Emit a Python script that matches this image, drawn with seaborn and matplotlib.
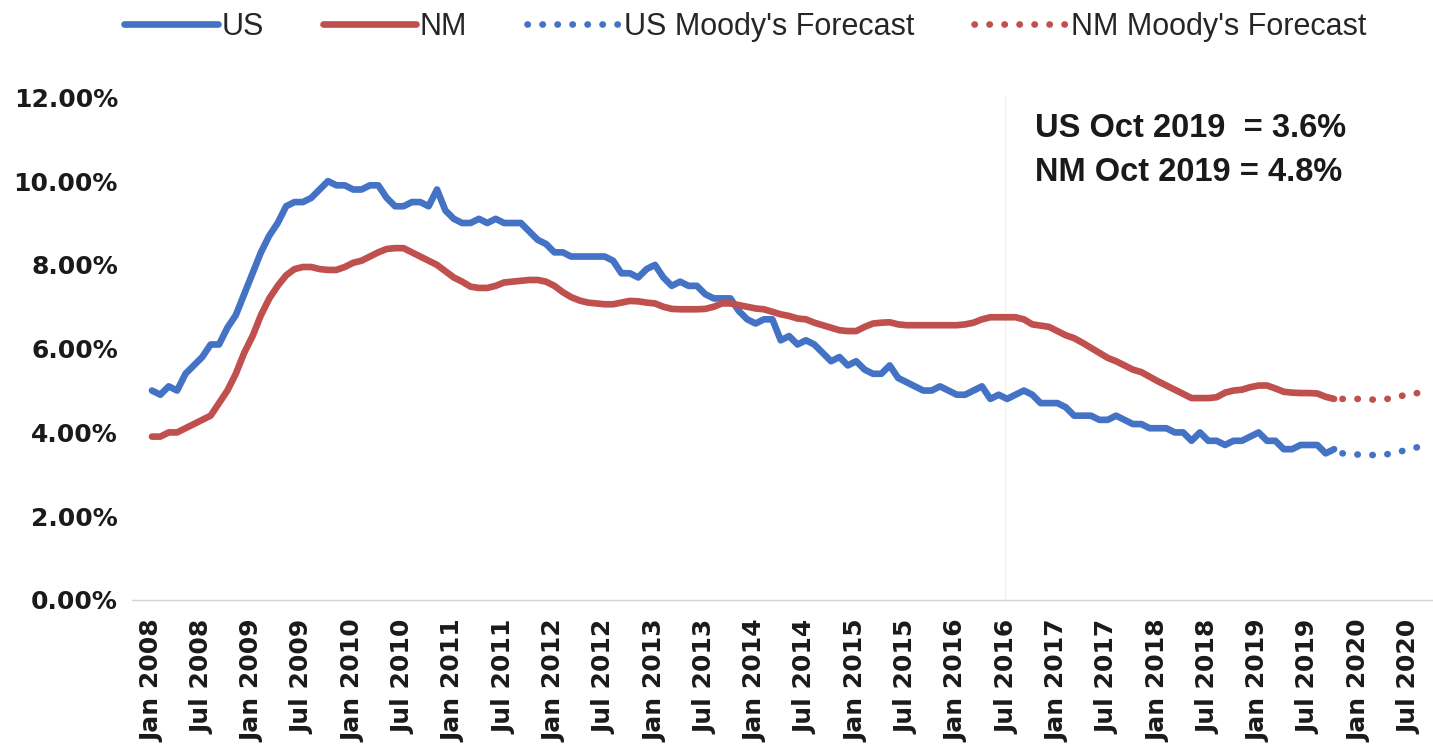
"""
US vs New Mexico unemployment rate, Jan 2008 - Oct 2019, with Moody's forecast.
"""
import numpy as np
import pandas as pd
import matplotlib
matplotlib.use("Agg")
import matplotlib.pyplot as plt
import seaborn as sns

# --- data (monthly, Jan 2008 = month 0) ---
us_rate = [
    5.0, 4.9, 5.1, 5.0, 5.4, 5.6, 5.8, 6.1, 6.1, 6.5, 6.8, 7.3,   # 2008
    7.8, 8.3, 8.7, 9.0, 9.4, 9.5, 9.5, 9.6, 9.8, 10.0, 9.9, 9.9,  # 2009
    9.8, 9.8, 9.9, 9.9, 9.6, 9.4, 9.4, 9.5, 9.5, 9.4, 9.8, 9.3,   # 2010
    9.1, 9.0, 9.0, 9.1, 9.0, 9.1, 9.0, 9.0, 9.0, 8.8, 8.6, 8.5,   # 2011
    8.3, 8.3, 8.2, 8.2, 8.2, 8.2, 8.2, 8.1, 7.8, 7.8, 7.7, 7.9,   # 2012
    8.0, 7.7, 7.5, 7.6, 7.5, 7.5, 7.3, 7.2, 7.2, 7.2, 6.9, 6.7,   # 2013
    6.6, 6.7, 6.7, 6.2, 6.3, 6.1, 6.2, 6.1, 5.9, 5.7, 5.8, 5.6,   # 2014
    5.7, 5.5, 5.4, 5.4, 5.6, 5.3, 5.2, 5.1, 5.0, 5.0, 5.1, 5.0,   # 2015
    4.9, 4.9, 5.0, 5.1, 4.8, 4.9, 4.8, 4.9, 5.0, 4.9, 4.7, 4.7,   # 2016
    4.7, 4.6, 4.4, 4.4, 4.4, 4.3, 4.3, 4.4, 4.3, 4.2, 4.2, 4.1,   # 2017
    4.1, 4.1, 4.0, 4.0, 3.8, 4.0, 3.8, 3.8, 3.7, 3.8, 3.8, 3.9,   # 2018
    4.0, 3.8, 3.8, 3.6, 3.6, 3.7, 3.7, 3.7, 3.5, 3.6,             # 2019
]
nm_rate = [
    3.9, 3.9, 4.0, 4.0, 4.1, 4.2, 4.3, 4.4, 4.7, 5.0, 5.4, 5.9,
    6.3, 6.8, 7.2, 7.5, 7.75, 7.9, 7.95, 7.95, 7.9, 7.88, 7.88, 7.95,
    8.05, 8.1, 8.2, 8.3, 8.38, 8.4, 8.4, 8.3, 8.2, 8.1, 8.0, 7.85,
    7.7, 7.6, 7.48, 7.45, 7.45, 7.5, 7.58, 7.6, 7.62, 7.64, 7.64, 7.6,
    7.5, 7.35, 7.23, 7.15, 7.1, 7.08, 7.06, 7.06, 7.1, 7.14, 7.13, 7.1,
    7.08, 7.0, 6.95, 6.94, 6.94, 6.94, 6.95, 7.0, 7.08, 7.08, 7.04, 7.0,
    6.96, 6.94, 6.88, 6.82, 6.78, 6.72, 6.7, 6.62, 6.56, 6.5, 6.44, 6.42,
    6.42, 6.52, 6.6, 6.62, 6.63, 6.58, 6.56, 6.56, 6.56, 6.56, 6.56, 6.56,
    6.56, 6.58, 6.62, 6.7, 6.75, 6.75, 6.75, 6.75, 6.7, 6.58, 6.55, 6.52,
    6.42, 6.32, 6.25, 6.14, 6.02, 5.9, 5.78, 5.7, 5.6, 5.5, 5.44, 5.33,
    5.22, 5.12, 5.02, 4.92, 4.82, 4.82, 4.82, 4.84, 4.95, 5.0, 5.02, 5.08,
    5.12, 5.12, 5.05, 4.97, 4.95, 4.94, 4.94, 4.93, 4.85, 4.8,
]
# Moody's forecast, Nov 2019 onwards
us_forecast = [3.5, 3.48, 3.47, 3.46, 3.46, 3.47, 3.5, 3.55, 3.6, 3.65, 3.7]
nm_forecast = [4.8, 4.8, 4.8, 4.79, 4.78, 4.79, 4.82, 4.87, 4.92, 4.94, 4.96]

tick_labels = [
    "Jan 2008", "Jul 2008", "Jan 2009", "Jul 2009", "Jan 2010", "Jul 2010",
    "Jan 2011", "Jul 2011", "Jan 2012", "Jul 2012", "Jan 2013", "Jul 2013",
    "Jan 2014", "Jul 2014", "Jan 2015", "Jul 2015", "Jan 2016", "Jul 2016",
    "Jan 2017", "Jul 2017", "Jan 2018", "Jul 2018", "Jan 2019", "Jul 2019",
    "Jan 2020", "Jul 2020",
]
y_ticks = [0, 2, 4, 6, 8, 10, 12]

BLUE = "#4472C4"
RED = "#C0504D"

sns.set_theme(style="white")
plt.rcParams["font.family"] = ["DejaVu Sans"]

hist_x = np.arange(len(us_rate))
fc_x = np.arange(len(us_rate), len(us_rate) + len(us_forecast))
df_hist = pd.DataFrame({"month": hist_x, "US": us_rate, "NM": nm_rate})
df_fc = pd.DataFrame({"month": fc_x, "US": us_forecast, "NM": nm_forecast})

fig = plt.figure(figsize=(14.33, 7.49), dpi=100)
ax = fig.add_axes([0.092, 0.199, 0.908, 0.671])

lw = 4.8
dots = (0, (0.05, 2.2))
sns.lineplot(data=df_hist, x="month", y="US", ax=ax, color=BLUE, lw=lw,
             label="US", solid_capstyle="round")
sns.lineplot(data=df_hist, x="month", y="NM", ax=ax, color=RED, lw=lw,
             label="NM", solid_capstyle="round")
sns.lineplot(data=df_fc, x="month", y="US", ax=ax, color=BLUE, lw=lw,
             linestyle=dots, dash_capstyle="round", label="US Moody's Forecast")
sns.lineplot(data=df_fc, x="month", y="NM", ax=ax, color=RED, lw=lw,
             linestyle=dots, dash_capstyle="round", label="NM Moody's Forecast")

# faint vertical scan line seen in the original
ax.axvline(101.7, color="#f1f1f8", lw=1, zorder=0)

ax.set_xlim(-2.4, 152.8)
ax.set_ylim(0, 12)
ax.set_xticks(np.arange(0, 6 * len(tick_labels), 6))
ax.set_xticklabels(tick_labels, rotation=90, fontsize=18, fontweight="bold",
                   color="#1a1a1a")
ax.set_yticks(y_ticks)
ax.set_yticklabels([f"{v:.2f}%" for v in y_ticks], fontsize=18,
                   fontweight="bold", color="#1a1a1a")
ax.tick_params(axis="x", length=0, pad=14)
ax.tick_params(axis="y", length=0, pad=10)
ax.set_xlabel(""); ax.set_ylabel("")
for side in ["top", "right", "left"]:
    ax.spines[side].set_visible(False)
ax.spines["bottom"].set_color("#d4d4d4")
ax.spines["bottom"].set_linewidth(1)

leg = ax.legend(loc="center", bbox_to_anchor=(0.52, 0.964),
                bbox_transform=fig.transFigure, ncol=4, frameon=False,
                prop={"family": "Liberation Sans", "size": 22},
                handlelength=3.05, handletextpad=0.12, columnspacing=1.95)
for t in leg.get_texts():
    t.set_color("#262626")

fig.text(0.722, 0.829, "US Oct 2019  = 3.6%", fontsize=23.5, fontweight="bold",
         family="Liberation Sans", va="center", ha="left", color="#1a1a1a")
fig.text(0.722, 0.770, "NM Oct 2019 = 4.8%", fontsize=23.5, fontweight="bold",
         family="Liberation Sans", va="center", ha="left", color="#1a1a1a")

fig.savefig("out.png", dpi=100)
